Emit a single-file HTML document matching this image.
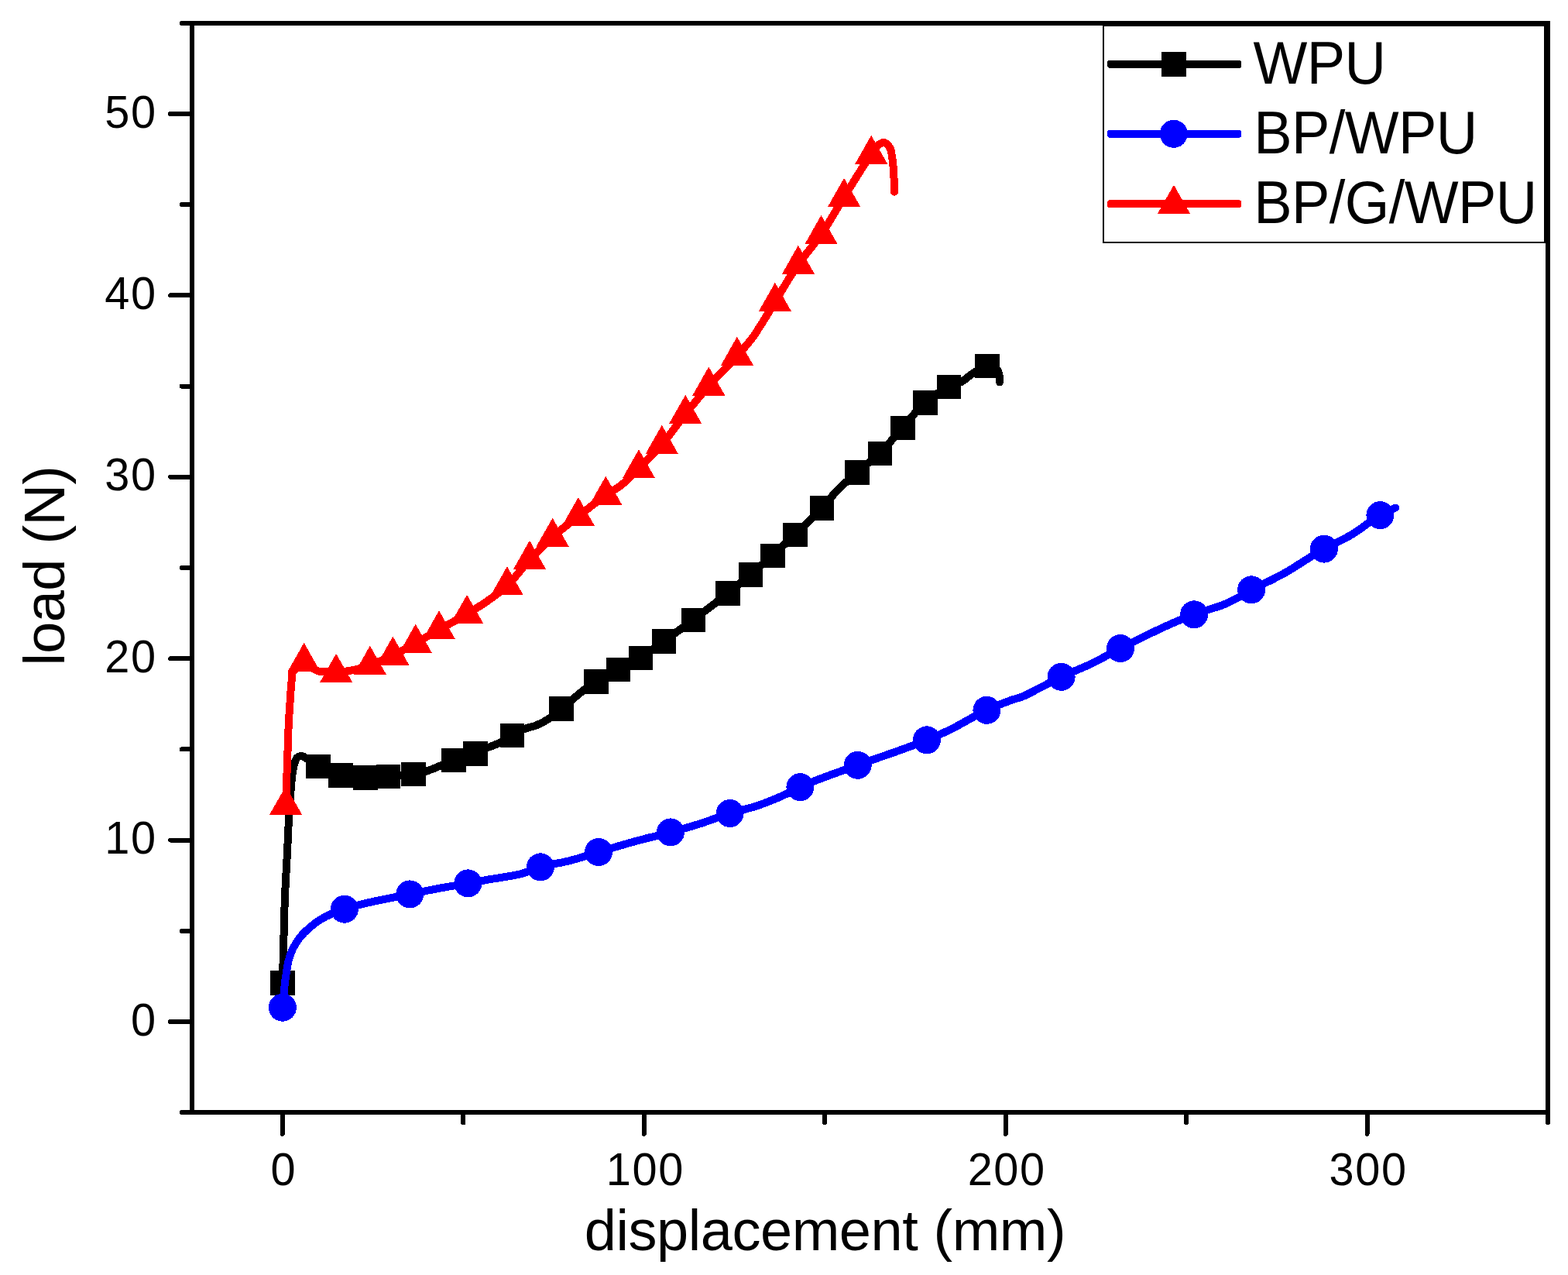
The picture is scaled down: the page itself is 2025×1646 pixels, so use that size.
<!DOCTYPE html>
<html lang="en"><head><meta charset="utf-8"><title>load vs displacement</title>
<style>
html,body{margin:0;padding:0;background:#fff;}
body{width:2025px;height:1646px;overflow:hidden;}
svg{display:block;shape-rendering:crispEdges;}
text{font-family:"Liberation Sans",sans-serif;fill:#000;}
.tick{font-size:57.7px;letter-spacing:1.6px;}
.title{font-size:74px;letter-spacing:-0.45px;}
.leg{font-size:74px;letter-spacing:-0.6px;}
</style></head><body>
<svg width="2025" height="1646" viewBox="0 0 2025 1646">
<rect x="0" y="0" width="2025" height="1646" fill="#fff"/>
<g fill="none" stroke-width="10" stroke-linecap="round" stroke-linejoin="round">
<path stroke="#000" d="M364.8 1268.6C365.2 1253.7 365.7 1238.9 366.1 1224.0C366.7 1201.8 367.1 1179.6 368.0 1157.4C368.8 1137.6 370.1 1117.8 371.1 1098.0C371.8 1084.8 372.2 1071.7 373.0 1058.5C373.6 1048.7 374.4 1038.8 375.0 1029.0C375.2 1025.7 375.4 1022.3 375.6 1019.0C376.1 1012.4 376.6 1005.8 377.6 999.3C378.4 994.5 378.8 989.5 380.5 985.0C381.4 982.5 382.0 979.4 384.0 977.8C385.2 976.9 386.9 976.0 388.4 975.9C389.9 975.8 391.6 976.7 393.0 977.3C395.2 978.3 397.0 980.1 399.0 981.5C403.0 984.2 406.9 987.0 411.1 989.4C420.1 994.5 430.0 998.3 440.0 1000.7C450.3 1003.2 461.4 1003.5 472.1 1003.7C482.0 1003.9 491.8 1002.9 501.7 1002.2C512.4 1001.5 523.2 1001.1 533.8 999.3C539.2 998.4 544.6 997.3 549.9 995.8C556.9 993.8 563.5 990.7 570.2 987.9C575.4 985.8 580.4 983.2 585.7 981.2C594.9 977.7 605.0 976.5 614.1 972.8C619.5 970.6 624.5 967.6 629.8 965.2C635.3 962.8 641.1 961.2 646.4 958.5C651.7 955.8 656.3 951.8 661.5 948.9C666.5 946.1 671.5 943.3 676.8 941.2C682.1 939.1 687.9 938.4 693.1 936.2C698.8 933.9 704.3 930.9 709.4 927.5C714.9 923.8 719.7 919.0 724.9 914.8C730.2 910.4 735.6 906.0 740.9 901.6C745.4 897.9 749.7 894.0 754.4 890.5C759.5 886.7 764.8 883.2 770.1 879.8C779.2 874.0 788.9 869.1 798.5 864.0C808.0 859.0 818.0 854.9 827.2 849.4C837.8 843.0 847.4 835.0 857.5 827.7C870.2 818.5 883.0 809.4 895.6 800.0C910.6 788.8 925.4 777.5 940.0 765.8C949.8 757.9 959.6 749.9 969.2 741.8C978.8 733.6 988.3 725.3 997.7 716.9C1007.6 708.0 1017.3 699.1 1026.9 689.9C1038.6 678.8 1050.3 667.7 1061.2 655.8C1066.5 650.0 1071.4 643.8 1076.8 638.1C1081.5 633.2 1086.3 628.4 1091.2 623.7C1096.3 618.9 1101.6 614.2 1106.9 609.6C1116.5 601.2 1127.1 593.7 1136.3 584.9C1146.9 574.7 1156.0 562.9 1165.9 551.9C1175.5 541.2 1183.9 529.0 1194.8 519.8C1204.1 511.9 1214.3 504.5 1225.4 499.3C1230.4 497.0 1236.0 495.8 1240.9 493.3C1247.5 489.9 1252.7 483.9 1259.1 480.2C1264.2 477.3 1269.3 472.7 1275.0 472.6C1277.3 472.5 1279.8 472.8 1282.0 473.6C1283.7 474.2 1285.5 475.0 1286.8 476.2C1287.9 477.3 1288.8 478.8 1289.4 480.2C1290.1 481.8 1290.4 483.7 1290.7 485.5C1291.1 488.1 1290.9 490.7 1291.0 493.3"/>
</g>
<g fill="#000"><rect x="349.1" y="1253.2" width="31.5" height="31.4"/><rect x="395.4" y="974.0" width="31.5" height="31.4"/><rect x="424.2" y="985.3" width="31.5" height="31.4"/><rect x="456.4" y="988.3" width="31.5" height="31.4"/><rect x="485.9" y="986.8" width="31.5" height="31.4"/><rect x="518.0" y="983.9" width="31.5" height="31.4"/><rect x="570.0" y="965.8" width="31.5" height="31.4"/><rect x="598.4" y="957.4" width="31.5" height="31.4"/><rect x="645.8" y="933.5" width="31.5" height="31.4"/><rect x="709.1" y="899.4" width="31.5" height="31.4"/><rect x="754.4" y="864.4" width="31.5" height="31.4"/><rect x="782.8" y="848.6" width="31.5" height="31.4"/><rect x="811.5" y="834.0" width="31.5" height="31.4"/><rect x="841.8" y="812.3" width="31.5" height="31.4"/><rect x="879.9" y="784.6" width="31.5" height="31.4"/><rect x="924.2" y="750.4" width="31.5" height="31.4"/><rect x="953.5" y="726.4" width="31.5" height="31.4"/><rect x="982.0" y="701.5" width="31.5" height="31.4"/><rect x="1011.2" y="674.5" width="31.5" height="31.4"/><rect x="1045.5" y="640.4" width="31.5" height="31.4"/><rect x="1091.2" y="594.2" width="31.5" height="31.4"/><rect x="1120.5" y="569.5" width="31.5" height="31.4"/><rect x="1150.2" y="536.5" width="31.5" height="31.4"/><rect x="1179.0" y="504.4" width="31.5" height="31.4"/><rect x="1209.7" y="483.9" width="31.5" height="31.4"/><rect x="1259.0" y="456.7" width="31.5" height="31.4"/></g>
<g fill="none" stroke-width="10" stroke-linecap="round" stroke-linejoin="round">
<path stroke="#00f" d="M364.9 1300.7C365.4 1295.5 365.9 1290.2 366.4 1285.0C366.9 1279.5 367.3 1274.0 368.0 1268.5C368.6 1263.6 369.4 1258.6 370.2 1253.7C371.0 1248.8 371.7 1243.7 373.0 1238.9C374.4 1233.8 376.2 1228.8 378.5 1224.1C381.1 1218.9 384.4 1213.8 388.1 1209.3C391.5 1205.1 395.5 1201.4 399.6 1197.8C404.1 1193.9 409.0 1190.1 414.1 1187.0C418.6 1184.3 423.3 1181.9 428.1 1179.8C433.5 1177.4 439.3 1175.6 444.9 1173.7C472.2 1164.4 501.1 1160.3 529.3 1154.4C541.8 1151.8 554.4 1149.1 567.0 1146.8C579.4 1144.5 591.9 1142.6 604.4 1140.4C613.4 1138.8 622.4 1137.0 631.5 1135.4C638.1 1134.3 644.7 1133.3 651.3 1132.2C658.7 1130.9 666.2 1129.9 673.5 1128.0C681.9 1125.8 689.7 1121.8 698.0 1119.3C710.3 1115.7 723.2 1114.4 735.6 1111.2C748.2 1108.0 760.5 1103.7 773.0 1100.0C788.5 1095.4 804.0 1090.6 819.6 1086.3C835.0 1082.1 850.6 1078.6 866.0 1074.4C878.8 1070.9 891.7 1067.3 904.4 1063.3C917.2 1059.2 929.7 1054.0 942.6 1050.0C954.4 1046.3 966.6 1044.1 978.3 1040.1C985.1 1037.8 991.8 1035.2 998.4 1032.5C1002.9 1030.7 1007.4 1028.7 1011.8 1026.7C1019.1 1023.4 1026.1 1019.5 1033.4 1016.1C1057.4 1004.9 1082.9 997.1 1107.7 987.8C1137.4 976.7 1167.8 967.6 1197.0 955.3C1206.2 951.4 1215.3 947.5 1224.3 943.3C1241.4 935.3 1257.2 924.6 1274.4 916.8C1284.4 912.3 1294.6 908.0 1304.9 904.3C1310.4 902.3 1316.3 901.0 1321.7 898.8C1327.5 896.4 1332.9 893.2 1338.5 890.4C1349.2 885.0 1359.7 879.0 1370.6 873.8C1383.1 867.8 1396.2 863.2 1408.7 857.2C1421.7 851.0 1434.1 843.6 1446.9 837.1C1478.1 821.3 1509.2 805.0 1542.1 793.3C1548.5 791.0 1555.0 789.0 1561.5 786.8C1567.4 784.8 1573.5 783.2 1579.3 780.9C1584.7 778.8 1589.9 776.2 1595.1 773.6C1602.3 769.9 1609.0 765.2 1616.1 761.3C1625.6 756.2 1635.6 752.1 1645.2 747.1C1651.2 744.0 1657.2 740.9 1663.0 737.5C1669.0 734.0 1674.8 730.2 1680.7 726.5C1690.4 720.5 1699.9 714.1 1709.9 708.6C1718.3 704.0 1727.2 700.2 1735.6 695.7C1739.3 693.7 1742.9 691.8 1746.5 689.7C1759.0 682.4 1769.7 672.0 1782.4 665.1C1788.8 661.6 1795.7 658.7 1802.3 655.5"/>
</g>
<g fill="#00f"><circle cx="364.9" cy="1300.7" r="18"/><circle cx="444.9" cy="1173.7" r="18"/><circle cx="529.3" cy="1154.4" r="18"/><circle cx="604.4" cy="1140.4" r="18"/><circle cx="698.0" cy="1119.3" r="18"/><circle cx="773.0" cy="1100.0" r="18"/><circle cx="866.0" cy="1074.4" r="18"/><circle cx="942.6" cy="1050.0" r="18"/><circle cx="1033.4" cy="1016.1" r="18"/><circle cx="1107.7" cy="987.8" r="18"/><circle cx="1197.0" cy="955.3" r="18"/><circle cx="1274.4" cy="916.8" r="18"/><circle cx="1370.6" cy="873.8" r="18"/><circle cx="1446.9" cy="837.1" r="18"/><circle cx="1542.1" cy="793.3" r="18"/><circle cx="1616.1" cy="761.3" r="18"/><circle cx="1709.9" cy="708.6" r="18"/><circle cx="1782.4" cy="665.1" r="18"/></g>
<g fill="none" stroke-width="10" stroke-linecap="round" stroke-linejoin="round">
<path stroke="#f00" d="M369.1 1039.4C369.7 1021.3 370.3 1003.1 371.0 985.0C371.7 966.0 372.1 947.0 373.1 928.0C373.8 916.0 374.6 904.0 375.5 892.0C375.9 886.7 376.5 881.3 376.8 876.0C377.0 873.4 377.1 870.7 377.2 868.1C382.3 863.6 387.5 859.0 392.6 854.5C399.1 858.5 404.8 865.2 412.1 866.6C415.6 867.3 419.4 866.5 423.0 866.8C426.7 867.1 430.4 868.5 434.1 868.5C438.1 868.5 442.0 867.4 446.0 866.8C450.0 866.2 454.0 865.6 458.0 864.7C464.7 863.2 471.3 860.7 477.8 858.4C487.8 854.9 497.8 850.9 507.4 846.3C517.4 841.5 527.0 835.7 536.7 830.3C546.9 824.6 556.9 818.8 567.0 813.0C579.0 806.2 591.2 799.6 603.1 792.5C610.9 787.8 618.8 783.2 626.3 778.1C636.2 771.3 646.1 764.1 654.9 756.0C665.7 746.0 673.9 733.3 684.0 722.5C693.5 712.4 703.3 702.5 713.6 693.3C724.2 683.8 735.7 675.4 746.9 666.6C758.6 657.4 770.1 647.9 782.3 639.4C788.7 635.0 795.6 631.4 801.7 626.7C810.1 620.3 817.4 612.4 825.0 604.9C835.3 594.8 845.4 584.4 854.8 573.5C865.6 561.1 874.9 547.3 885.2 534.5C895.1 522.3 904.9 510.0 915.3 498.2C927.0 484.9 940.2 472.8 951.9 459.4C959.4 450.9 967.3 442.6 973.8 433.3C976.1 429.9 978.3 426.4 980.5 422.9C982.7 419.5 984.9 416.0 987.0 412.6C991.7 405.0 996.2 397.2 1000.9 389.5C1010.7 373.4 1020.1 356.9 1030.9 341.4C1040.2 328.1 1051.3 316.0 1060.5 302.6C1071.2 287.1 1080.1 270.5 1090.1 254.5C1101.6 236.0 1112.6 217.2 1125.2 199.4C1128.2 195.2 1130.1 189.6 1134.2 187.0C1136.5 185.5 1139.9 183.6 1142.3 184.0C1144.9 184.5 1147.4 188.0 1149.0 190.5C1151.6 194.5 1151.5 200.1 1152.4 205.0C1153.5 211.6 1153.9 218.3 1154.3 225.0C1154.8 232.6 1154.8 240.1 1155.0 247.7"/>
</g>
<g fill="#f00"><path d="M369.1 1014.7L390.1 1051.7L348.1 1051.7ZM392.6 829.8L413.6 866.8L371.6 866.8ZM434.1 843.8L455.1 880.8L413.1 880.8ZM477.8 833.7L498.8 870.7L456.8 870.7ZM507.4 821.6L528.4 858.6L486.4 858.6ZM536.7 805.6L557.7 842.6L515.7 842.6ZM567.0 788.3L588.0 825.3L546.0 825.3ZM603.1 767.8L624.1 804.8L582.1 804.8ZM654.9 731.3L675.9 768.3L633.9 768.3ZM684.0 697.8L705.0 734.8L663.0 734.8ZM713.6 668.6L734.6 705.6L692.6 705.6ZM746.9 641.9L767.9 678.9L725.9 678.9ZM782.3 614.7L803.3 651.7L761.3 651.7ZM825.0 580.2L846.0 617.2L804.0 617.2ZM854.8 548.8L875.8 585.8L833.8 585.8ZM885.2 509.8L906.2 546.8L864.2 546.8ZM915.3 473.5L936.3 510.5L894.3 510.5ZM951.9 434.7L972.9 471.7L930.9 471.7ZM1000.9 364.8L1021.9 401.8L979.9 401.8ZM1030.9 316.7L1051.9 353.7L1009.9 353.7ZM1060.5 277.9L1081.5 314.9L1039.5 314.9ZM1090.1 229.8L1111.1 266.8L1069.1 266.8ZM1125.2 174.7L1146.2 211.7L1104.2 211.7Z"/></g>
<rect x="248.0" y="30.2" width="1751.0" height="1405.8" fill="none" stroke="#000" stroke-width="6.3"/>
<g stroke="#000" stroke-width="6" fill="none" stroke-linecap="round">
<path d="M234.7 30.2H248.0M234.7 1436.0H248.0M220.2 1319.0H248.0M234.7 1201.8H248.0M220.2 1084.6H248.0M234.7 967.4H248.0M220.2 850.2H248.0M234.7 733.0H248.0M220.2 615.8H248.0M234.7 498.6H248.0M220.2 381.4H248.0M234.7 264.2H248.0M220.2 147.0H248.0M364.9 1436.0V1463.8M598.3 1436.0V1449.3M831.8 1436.0V1463.8M1065.2 1436.0V1449.3M1298.7 1436.0V1463.8M1532.2 1436.0V1449.3M1765.6 1436.0V1463.8M1999.0 1436.0V1449.3"/>
</g>
<g class="tick" text-anchor="end">
<text transform="translate(202.7 1336.6) scale(1 1.04)">0</text>
<text transform="translate(202.7 1102.2) scale(1 1.04)">10</text>
<text transform="translate(202.7 867.8) scale(1 1.04)">20</text>
<text transform="translate(202.7 633.4) scale(1 1.04)">30</text>
<text transform="translate(202.7 399.0) scale(1 1.04)">40</text>
<text transform="translate(202.7 164.6) scale(1 1.04)">50</text>
</g>
<g class="tick" text-anchor="middle">
<text transform="translate(366.4 1529.8) scale(1 1.04)">0</text>
<text transform="translate(833.3 1529.8) scale(1 1.04)">100</text>
<text transform="translate(1300.2 1529.8) scale(1 1.04)">200</text>
<text transform="translate(1767.1 1529.8) scale(1 1.04)">300</text>
</g>
<text class="title" text-anchor="middle" x="1065.5" y="1614.2">displacement (mm)</text>
<text class="title" text-anchor="middle" style="letter-spacing:-0.7px" transform="translate(83.3 730.6) rotate(-90)">load (N)</text>
<rect x="1425.0" y="33.0" width="570.2" height="279.6" fill="none" stroke="#000" stroke-width="2"/>
<rect x="1430" y="77.9" width="173.3" height="10" rx="3.5" fill="#000"/>
<rect x="1430" y="167.8" width="173.3" height="10" rx="3.5" fill="#00f"/>
<rect x="1430" y="258.3" width="173.3" height="10" rx="3.5" fill="#f00"/>
<rect x="1500.2" y="67.3" width="31.5" height="31.2" fill="#000"/>
<circle cx="1515.8" cy="172.8" r="18" fill="#00f"/>
<path d="M1516.0 238.8L1537.0 275.8L1495.0 275.8Z" fill="#f00"/>
<g class="leg">
<text transform="translate(1618.5 108) scale(1 1.04)">WPU</text>
<text transform="translate(1619.3 197.7) scale(1 1.04)">BP/WPU</text>
<text transform="translate(1619.3 288.2) scale(1 1.04)">BP/G/WPU</text>
</g>
</svg>
</body></html>
